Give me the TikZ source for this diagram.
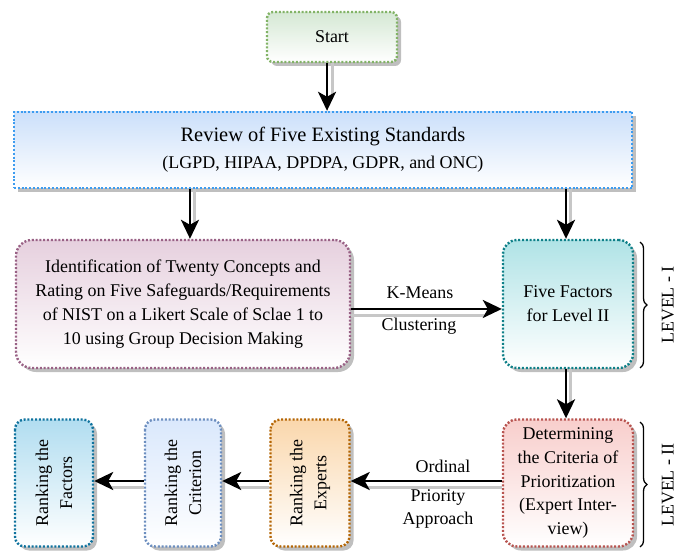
\documentclass[tikz,border=0pt]{standalone}
\usepackage{fontspec}
\setmainfont{Liberation Serif}
\usetikzlibrary{arrows.meta,shadows,decorations.pathreplacing}
\definecolor{greenline}{HTML}{82B366}
\definecolor{greenfill}{HTML}{D5E8D4}
\definecolor{blueline}{HTML}{3D9CF0}
\definecolor{bluefill}{HTML}{CCE0FA}
\definecolor{mauveline}{HTML}{996185}
\definecolor{mauvefill}{HTML}{E6D0DE}
\definecolor{tealline}{HTML}{0E8088}
\definecolor{tealfill}{HTML}{B0E3E6}
\definecolor{redline}{HTML}{B85450}
\definecolor{redfill}{HTML}{F8CECC}
\definecolor{orangeline}{HTML}{B46504}
\definecolor{orangefill}{HTML}{FAD7AC}
\definecolor{lavline}{HTML}{6C8EBF}
\definecolor{lavfill}{HTML}{DAE8FC}
\definecolor{cyanline}{HTML}{10739E}
\definecolor{cyanfill}{HTML}{B1DDF0}
\tikzset{
  box/.style={draw, line width=2.4bp, dash pattern=on 2bp off 1.8bp, rounded corners=10bp,
    bottom color=white, align=center, inner sep=2bp,
    drop shadow={shadow xshift=4bp, shadow yshift=-4bp, fill=black!25, opacity=1},
    font=\fontsize{18}{24}\selectfont},
  vbox/.style={box, rotate=90, minimum width=127bp},
  flow/.style={-{Stealth[length=19bp,width=18bp,inset=5bp]}, line width=2.8bp},
  flowshade/.style={draw=black!22, line width=3bp, shorten >=16bp},
  levelbrace/.style={decorate, decoration={brace, amplitude=7bp}, line width=1.3bp},
  leveltext/.style={rotate=90, font=\fontsize{18}{20}\selectfont},
  flowtext/.style={font=\fontsize{18}{24}\selectfont}
}
\begin{document}
\begin{tikzpicture}[x=1bp, y=-1bp]
\useasboundingbox (0,0) rectangle (683,554);
\node[box, draw=greenline, top color=greenfill, rounded corners=6bp, minimum width=130bp, minimum height=50bp] (start) at (332,37) {Start};
\node[box, draw=blueline, top color=bluefill, rounded corners=0bp, minimum width=618bp, minimum height=76bp] (review) at (323,150)
  {{\fontsize{20.5}{24}\selectfont Review of Five Existing Standards}\\[3bp](LGPD, HIPAA, DPDPA, GDPR, and ONC)};
\node[box, draw=mauveline, top color=mauvefill, rounded corners=16bp, minimum width=334bp, minimum height=128bp] (identify) at (183,304)
  {Identification of Twenty Concepts and\\Rating on Five Safeguards/Requirements\\of NIST on a Likert Scale of Sclae 1 to\\10 using Group Decision Making};
\node[box, draw=tealline, top color=tealfill, rounded corners=14bp, minimum width=130bp, minimum height=128bp] (fivefactors) at (568,304)
  {Five Factors\\for Level II};
\node[box, draw=redline, top color=redfill, rounded corners=14bp, minimum width=130bp, minimum height=127bp] (determine) at (568,483)
  {Determining\\the Criteria of\\Prioritization\\(Expert Inter-\\view)};
\node[vbox, draw=orangeline, top color=orangefill, minimum height=79bp] (experts) at (310,483) {Ranking the\\Experts};
\node[vbox, draw=lavline, top color=lavfill, minimum height=76bp] (criterion) at (183,483) {Ranking the\\Criterion};
\node[vbox, draw=cyanline, top color=cyanfill, minimum height=78bp] (rankfactors) at (54,483) {Ranking the\\Factors};
% arrow shadows
\draw[flowshade] ([xshift=0]start.south) -- ([xshift=0]start.south |- review.north);
\draw[flowshade] ([xshift=12]identify.north |- review.south) -- ([xshift=12]identify.north);
\draw[flowshade] ([xshift=3]fivefactors.north |- review.south) -- ([xshift=3]fivefactors.north);
\draw[flowshade] ([yshift=-12]identify.east) -- ([yshift=-12]fivefactors.west);
\draw[flowshade] ([xshift=3]fivefactors.south) -- ([xshift=3]determine.north);
\draw[flowshade] ([yshift=-5]determine.west) -- ([yshift=-5]experts.south);
\draw[flowshade] ([yshift=-5]experts.north) -- ([yshift=-5]criterion.south);
\draw[flowshade] ([yshift=-5]criterion.north) -- ([yshift=-5]rankfactors.south);
% flow
\draw[flow] ([xshift=-5]start.south) -- ([xshift=-5]start.south |- review.north);
\draw[flow] ([xshift=7]identify.north |- review.south) -- ([xshift=7]identify.north);
\draw[flow] ([xshift=-2]fivefactors.north |- review.south) -- ([xshift=-2]fivefactors.north);
\draw[flow] ([yshift=-5]identify.east) -- ([yshift=-5]fivefactors.west);
\node[flowtext] (kmeans) at (420,293) {K-Means};
\node[flowtext] (clustering) at (419,326) {Clustering};
\draw[flow] ([xshift=-2]fivefactors.south) -- ([xshift=-2]determine.north);
\draw[flow] ([yshift=2]determine.west) -- ([yshift=2]experts.south);
\node[flowtext] (ordinal) at (443,466) {Ordinal};
\node[flowtext, align=center] (priority) at (438,509) {Priority\\Approach};
\draw[flow] ([yshift=2]experts.north) -- ([yshift=2]criterion.south);
\draw[flow] ([yshift=2]criterion.north) -- ([yshift=2]rankfactors.south);
% levels
\draw[levelbrace] (640,242) -- (640,368);
\node[leveltext] (levelone) at (668,305) {LEVEL - I};
\draw[levelbrace] (640,422) -- (640,547);
\node[leveltext] (leveltwo) at (668,485) {LEVEL - II};
\end{tikzpicture}
\end{document}
